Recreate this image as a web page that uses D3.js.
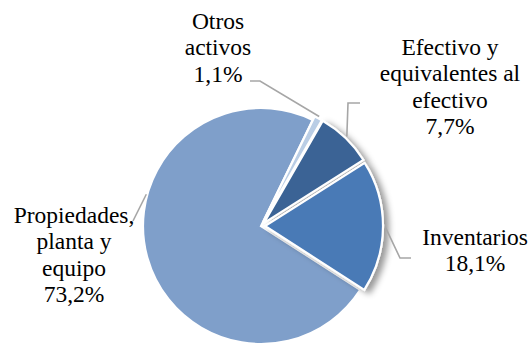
<!DOCTYPE html>
<html>
<head>
<meta charset="utf-8">
<script src="https://cdn.jsdelivr.net/npm/d3@7"></script>
</head>
<body style="margin:0">
<div id="wrap" style="position:relative;width:532px;height:346px;">
<svg id="chart" width="532" height="346" style="position:absolute;left:0;top:0;"></svg>
</div>
<script>
// ---- data ----
const categories = ["Otros activos", "Efectivo y equivalentes al efectivo", "Inventarios", "Propiedades, planta y equipo"];
const values = [1.1, 7.7, 18.1, 73.2];
const valueLabels = ["1,1%", "7,7%", "18,1%", "73,2%"];
const labelLines = [["Otros", "activos"], ["Efectivo y", "equivalentes al", "efectivo"], ["Inventarios"], ["Propiedades,", "planta y", "equipo"]];

// ---- styles / layout ----
const colors = ["#b9cde5", "#3b6495", "#4a7ab6", "#7f9fca"];
const explode = [4, 4, 4, 0];
const cx = 261, cy = 226, R = 118;
const startDeg = 26;
const fontPx = 23.5, lineH = 26.5;
const labelPos = [[218, 29], [450, 55], [475, 245], [74, 223]]; // center x, first baseline
const leaders = [
  [[260, 81], [250, 81]],
  [[348, 103], [360, 103]],
  [[400, 258], [411, 258]],
  [[133, 221]]
];

const svg = d3.select("#chart");
const defs = svg.append("defs");
const shadow = defs.append("filter").attr("id", "shadow").attr("x", "-30%").attr("y", "-30%").attr("width", "160%").attr("height", "160%");
shadow.append("feDropShadow").attr("dx", 5).attr("dy", 3).attr("stdDeviation", 3).attr("flood-color", "#000").attr("flood-opacity", 0.4);

const pie = d3.pie().sort(null).value(d => d)
  .startAngle(startDeg * Math.PI / 180)
  .endAngle(startDeg * Math.PI / 180 + 2 * Math.PI);
const arcs = pie(values);
const arc = d3.arc().innerRadius(0).outerRadius(R);

const g = svg.append("g").attr("transform", `translate(${cx},${cy})`);

const order = [3, 0, 1, 2];
order.forEach(i => {
  const a = arcs[i];
  const mid = (a.startAngle + a.endAngle) / 2;
  const ox = Math.sin(mid) * explode[i], oy = -Math.cos(mid) * explode[i];
  g.append("path")
    .attr("d", arc(a))
    .attr("transform", `translate(${ox},${oy})`)
    .attr("fill", colors[i])
    .attr("stroke", "#ffffff")
    .attr("stroke-width", 2.2)
    .attr("filter", i === 1 || i === 2 ? "url(#shadow)" : null);
});

// leader lines
arcs.forEach((a, i) => {
  const mid = (a.startAngle + a.endAngle) / 2;
  let pts;
  if (i === 3) {
    const ang = 1.5 * Math.PI + 0.27;
    pts = [[cx + Math.sin(ang) * (R + 1), cy - Math.cos(ang) * (R + 1)], leaders[i][0]];
  } else {
    const sx = cx + Math.sin(mid) * (R + 2 + explode[i]);
    const sy = cy - Math.cos(mid) * (R + 2 + explode[i]);
    pts = [[sx, sy], leaders[i][0], leaders[i][1]];
  }
  svg.append("path")
    .attr("d", d3.line()(pts))
    .attr("fill", "none")
    .attr("stroke", "#a6a6a6")
    .attr("stroke-width", 1.6);
});

// labels as HTML text in a serif face
const wrap = d3.select("#wrap");
const baselineOffset = (lineH - fontPx * 1.107) / 2 + fontPx * 0.891;
labelLines.forEach((ls, i) => {
  const lines = ls.concat([valueLabels[i]]);
  const box = wrap.append("div")
    .style("position", "absolute")
    .style("left", (labelPos[i][0] - 100) + "px")
    .style("top", (labelPos[i][1] - baselineOffset) + "px")
    .style("width", "200px")
    .style("text-align", "center")
    .style("white-space", "nowrap")
    .style("font-family", "'Liberation Serif'")
    .style("font-size", fontPx + "px")
    .style("line-height", lineH + "px")
    .style("color", "#000000");
  lines.forEach(l => box.append("div").text(l));
});
</script>
</body>
</html>
